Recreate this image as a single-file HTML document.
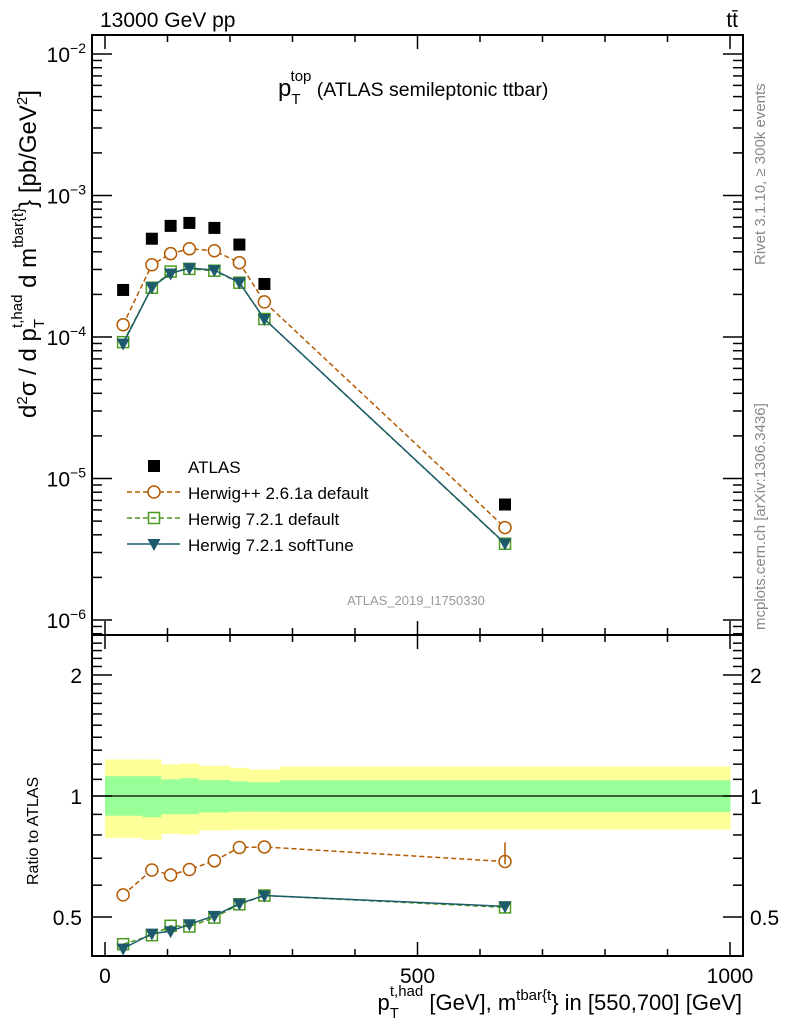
<!DOCTYPE html>
<html><head><meta charset="utf-8"><style>
body{margin:0;background:#fff}
svg text{font-family:"Liberation Sans",sans-serif}
</style></head><body>
<svg id="c" width="786" height="1024" viewBox="0 0 786 1024" xmlns="http://www.w3.org/2000/svg"></svg>
<script>
const xValues=[29,75,105,135,175,215,255,640];
const binEdges=[0,60,90,120,150,200,230,280,1000];
const atlas=[2.15e-4,4.95e-4,6.1e-4,6.4e-4,5.9e-4,4.5e-4,2.37e-4,6.55e-6];
const herwigpp=[1.22e-4,3.24e-4,3.88e-4,4.2e-4,4.07e-4,3.35e-4,1.77e-4,4.5e-6];
const herwig721=[9.2e-5,2.23e-4,2.9e-4,3.03e-4,2.94e-4,2.42e-4,1.34e-4,3.46e-6];
const softTune=[8.97e-5,2.25e-4,2.81e-4,3.07e-4,2.97e-4,2.43e-4,1.34e-4,3.48e-6];
const yellowUp=[1.233,1.233,1.198,1.205,1.189,1.175,1.164,1.184];
const yellowDn=[0.787,0.778,0.805,0.802,0.821,0.824,0.824,0.825];
const greenUp=[1.12,1.12,1.10,1.107,1.096,1.088,1.082,1.094];
const greenDn=[0.893,0.886,0.901,0.901,0.910,0.914,0.914,0.912];
const xTicks=[0,500,1000];
const mainTicks=[-6,-5,-4,-3,-2];
const ratioTicks=[0.5,1,2];

const NS="http://www.w3.org/2000/svg";
const svg=document.getElementById('c');
function el(t,a,p){const e=document.createElementNS(NS,t);for(const k in a)e.setAttribute(k,a[k]);(p||svg).appendChild(e);return e;}
const L=92,R=743,T=35,MB=635,RB=956;
const X=v=>105+v*0.625;
const Y=v=>54-(Math.log10(v)+2)*141.5;
const YR=v=>796-Math.log2(v)*121;

for(let i=0;i<xValues.length;i++){
  const b=el('rect',{x:X(binEdges[i]),y:YR(yellowUp[i]),width:X(binEdges[i+1])-X(binEdges[i])+0.5,height:YR(yellowDn[i])-YR(yellowUp[i]),fill:'#ffff99'});
  
  
  const g=el('rect',{x:X(binEdges[i]),y:YR(greenUp[i]),width:X(binEdges[i+1])-X(binEdges[i])+0.5,height:YR(greenDn[i])-YR(greenUp[i]),fill:'#99ff99'});
  
  
}
el('line',{x1:L,x2:R,y1:YR(1),y2:YR(1),stroke:'#000','stroke-width':1.2});

el('rect',{x:L,y:T,width:R-L,height:MB-T,fill:'none',stroke:'#000','stroke-width':2});
el('rect',{x:L,y:MB,width:R-L,height:RB-MB,fill:'none',stroke:'#000','stroke-width':2});

for(let v=0;v<=1000;v+=100){
  const major=v%500===0, len=major?14:7;
  for(const [yb,dir] of [[MB,-1],[T,1],[RB,-1],[MB,1]]){
    el('line',{x1:X(v),x2:X(v),y1:yb,y2:yb+dir*len,stroke:'#000','stroke-width':1.5});
  }
}
xTicks.forEach(v=>{const t=el('text',{x:X(v),y:983,'font-size':21,'text-anchor':'middle'});t.textContent=v;

});

for(let d=-7;d<=-2;d++){
  for(let m=1;m<10;m++){
    const v=m*Math.pow(10,d); const y=Y(v);
    if(y<T||y>MB)continue;
    const len=m===1?20:10;
    el('line',{x1:L,x2:L+len,y1:y,y2:y,stroke:'#000','stroke-width':1.5});
    el('line',{x1:R,x2:R-len,y1:y,y2:y,stroke:'#000','stroke-width':1.5});
  }
}
mainTicks.forEach(d=>{const t=el('text',{x:86,y:Y(Math.pow(10,d))+8,'font-size':21,'text-anchor':'end'});
t.innerHTML='10<tspan dy="-9" font-size="14">−'+(-d)+'</tspan>';

});

for(let v=0.4;v<=2.5;v+=0.1){
  const y=YR(v); if(y<MB||y>RB)continue;
  const major=[0.5,1,2].some(u=>Math.abs(u-v)<1e-6);
  const len=major?20:10;
  el('line',{x1:L,x2:L+len,y1:y,y2:y,stroke:'#000','stroke-width':1.5});
  el('line',{x1:R,x2:R-len,y1:y,y2:y,stroke:'#000','stroke-width':1.5});
}
ratioTicks.forEach(v=>{
  const t=el('text',{x:82,y:YR(v)+8,'font-size':21,'text-anchor':'end'});t.textContent=v;
  
  
  const t2=el('text',{x:750,y:YR(v)+8,'font-size':21});t2.textContent=v;
  
  
});

function marker(type,cx,cy,color,parent){
  if(type==='fsq')return el('rect',{x:cx-6,y:cy-6,width:12,height:12,fill:'#000'},parent);
  if(type==='circ')return el('circle',{cx:cx,cy:cy,r:6,fill:'#fff',stroke:color,'stroke-width':1.5},parent);
  if(type==='osq')return el('rect',{x:cx-5.5,y:cy-5.5,width:11,height:11,fill:'none',stroke:color,'stroke-width':1.5},parent);
  if(type==='tri')return el('path',{d:`M${cx-6.5},${cy-5} L${cx+6.5},${cy-5} L${cx},${cy+7} Z`,fill:color},parent);
}
function series(vals,yf,color,dash,type,name,ratio){
  const g=el('g',{});
  
  
  const v=ratio?vals.map((a,i)=>a/atlas[i]):vals;
  if(color){
    el('polyline',{points:xValues.map((x,i)=>X(x)+','+yf(v[i])).join(' '),fill:'none',stroke:color,'stroke-width':1.5,'stroke-dasharray':dash||'none'},g);
  }
  v.forEach((val,i)=>{const m=marker(type,X(xValues[i]),yf(val),color,g);
    
    });
}
series(atlas,Y,null,null,'fsq','atlas-data',false);
series(herwigpp,Y,'#b35a00','5,3','circ','herwigpp-series',false);
series(herwig721,Y,'#4a9a1e','5,3','osq','herwig721-series',false);
series(softTune,Y,'#1d5a6b',null,'tri','softtune-series',false);
series(herwigpp,YR,'#b35a00','5,3','circ','herwigpp-ratio',true);
series(herwig721,YR,'#4a9a1e','5,3','osq','herwig721-ratio',true);
series(softTune,YR,'#1d5a6b',null,'tri','softtune-ratio',true);
el('line',{x1:X(640),x2:X(640),y1:YR(0.72)-11,y2:YR(0.72)+11,stroke:'#b35a00','stroke-width':1.5});

const leg=[['fsq',null,null,'ATLAS'],['circ','#b35a00','5,3','Herwig++ 2.6.1a default'],['osq','#4a9a1e','5,3','Herwig 7.2.1 default'],['tri','#1d5a6b',null,'Herwig 7.2.1 softTune']];
leg.forEach((l,i)=>{
  const y=466+i*26;
  const g=el('g',{});
  
  
  if(l[1])el('line',{x1:127,x2:180,y1:y,y2:y,stroke:l[1],'stroke-width':1.5,'stroke-dasharray':l[2]||'none'},g);
  marker(l[0],154,y,l[1],g);
  const t=el('text',{x:188,y:y+7,'font-size':17},g);t.textContent=l[3];
});

function txt(x,y,s,attrs,html,name){const t=el('text',Object.assign({x:x,y:y},attrs));if(html)t.innerHTML=s;else t.textContent=s;
return t;}
txt(100,27,'13000 GeV pp',{'font-size':21},false,'energy-label');
txt(738,27,'tt̄',{'font-size':21,'text-anchor':'end'},false,'process-label');
txt(278,96,'p<tspan dy="8" font-size="15">T</tspan><tspan dy="-23" dx="-10" font-size="15">top</tspan><tspan dy="15" font-size="19.5"> (ATLAS semileptonic ttbar)</tspan>',{'font-size':24},true,'plot-title');
txt(416,605,'ATLAS_2019_I1750330',{'font-size':13,fill:'#999','text-anchor':'middle'},false,'analysis-id');
txt(765,265,'Rivet 3.1.10, ≥ 300k events',{'font-size':15,fill:'#888',transform:'rotate(-90 765 265)'},false,'rivet-label');
txt(765,630,'mcplots.cern.ch [arXiv:1306.3436]',{'font-size':15,fill:'#888',transform:'rotate(-90 765 630)'},false,'mcplots-label');
txt(36,418,'d<tspan dy="-9" font-size="15">2</tspan><tspan dy="9">σ / d p</tspan><tspan dy="8" font-size="15">T</tspan><tspan dy="-22" dx="-9" font-size="15">t,had</tspan><tspan dy="14"> d m</tspan><tspan dy="-13" font-size="15">tbar{t}</tspan><tspan dy="13">} [pb/GeV</tspan><tspan dy="-9" font-size="15">2</tspan><tspan dy="9">]</tspan>',{'font-size':24,'text-anchor':'start',transform:'rotate(-90 36 418)'},true,'y-axis-title');
txt(38,885,'Ratio to ATLAS',{'font-size':16,transform:'rotate(-90 38 885)'},false,'ratio-axis-title');
txt(742,1010,'p<tspan dy="8" font-size="15">T</tspan><tspan dy="-22" dx="-9" font-size="15">t,had</tspan><tspan dy="14"> [GeV], m</tspan><tspan dy="-10" font-size="15">tbar{t</tspan><tspan dy="10">} in [550,700] [GeV]</tspan>',{'font-size':22,'text-anchor':'end'},true,'x-axis-title');
</script>
</body></html>
